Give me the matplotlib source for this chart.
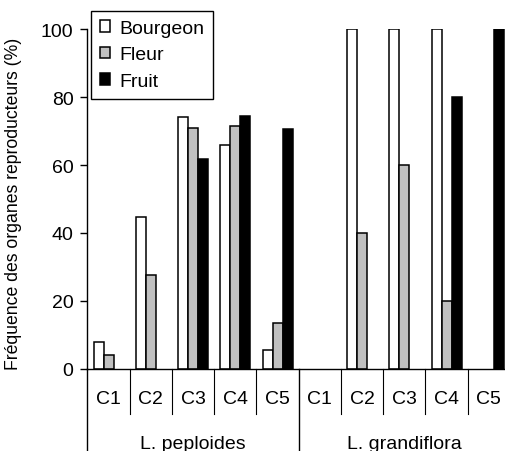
import matplotlib.pyplot as plt
import numpy as np

plt.rcParams['font.family'] = ['Liberation Sans', 'DejaVu Sans']

especes = ['L. peploides', 'L. grandiflora']
classes = ['C1', 'C2', 'C3', 'C4', 'C5']
# valeurs, 5 classes par espece
bourgeon = [7.8, 44.6, 74.2, 65.9, 5.6, 0, 100, 100, 100, 0]
fleur = [4.2, 27.6, 71.0, 71.5, 13.6, 0, 40, 60, 20, 0]
fruit = [0, 0, 61.7, 74.3, 70.6, 0, 0, 0, 80, 100]
series = ['Bourgeon', 'Fleur', 'Fruit']
couleurs = ['white', '#c0c0c0', 'black']

W, H = 505, 452
fig = plt.figure(figsize=(W / 100, H / 100), dpi=100)
left, right, top, bottom = 87.4, 510.0, 30.0, 370.0
ax = fig.add_axes([left / W, 1 - bottom / H, (right - left) / W, (bottom - top) / H])

x = np.arange(len(bourgeon)) + 0.5
w = 10 / 42.3
for k, (vals, nom, c) in enumerate(zip([bourgeon, fleur, fruit], series, couleurs)):
    lw = [1.1 if v > 0 else 0 for v in vals]
    ax.bar(x + (k - 1) * w, vals, width=w, color=c, edgecolor='black',
           linewidth=lw, label=nom)

ax.set_xlim(0, 10)
ax.set_ylim(0, 100)
ax.set_yticks([0, 20, 40, 60, 80, 100])
ax.tick_params(axis='y', labelsize=14, length=5, width=1, pad=5)
for s in ['top', 'right']:
    ax.spines[s].set_visible(False)
ax.spines['left'].set_linewidth(1)
ax.spines['bottom'].set_linewidth(1)

# axe des categories
ax.set_xticks([])
tr = ax.get_xaxis_transform()
for i in range(1, 10):
    if i == 5:
        ax.plot([i, i], [0, -0.3], color='black', lw=1, transform=tr, clip_on=False)
    else:
        ax.plot([i, i], [0, -45 / 340], color='black', lw=0.8, transform=tr, clip_on=False)
ax.plot([0, 0], [0, -0.3], color='black', lw=1, transform=tr, clip_on=False)
for i, xi in enumerate(x):
    ax.text(xi, -30 / 340, classes[i % 5], transform=tr, ha='center', va='center', fontsize=14)
for j, esp in enumerate(especes):
    ax.text(2.5 + 5 * j, -75 / 340, esp, transform=tr, ha='center', va='center', fontsize=14)

ax.set_ylabel('Fréquence des organes reproducteurs (%)', fontsize=12.7)
ax.yaxis.set_label_coords(-65 / 423, 0.49)

leg = fig.legend(loc='upper left', bbox_to_anchor=(91 / W, 1 - 12 / H), fontsize=14,
                 frameon=True, fancybox=False, edgecolor='black', framealpha=1,
                 handlelength=0.55, handleheight=0.55, handletextpad=0.45,
                 borderpad=0.45, labelspacing=0.5, borderaxespad=0)
leg.get_frame().set_linewidth(1)
for h in leg.legend_handles:
    h.set_linewidth(1.1)

fig.savefig('out.png', dpi=100)
